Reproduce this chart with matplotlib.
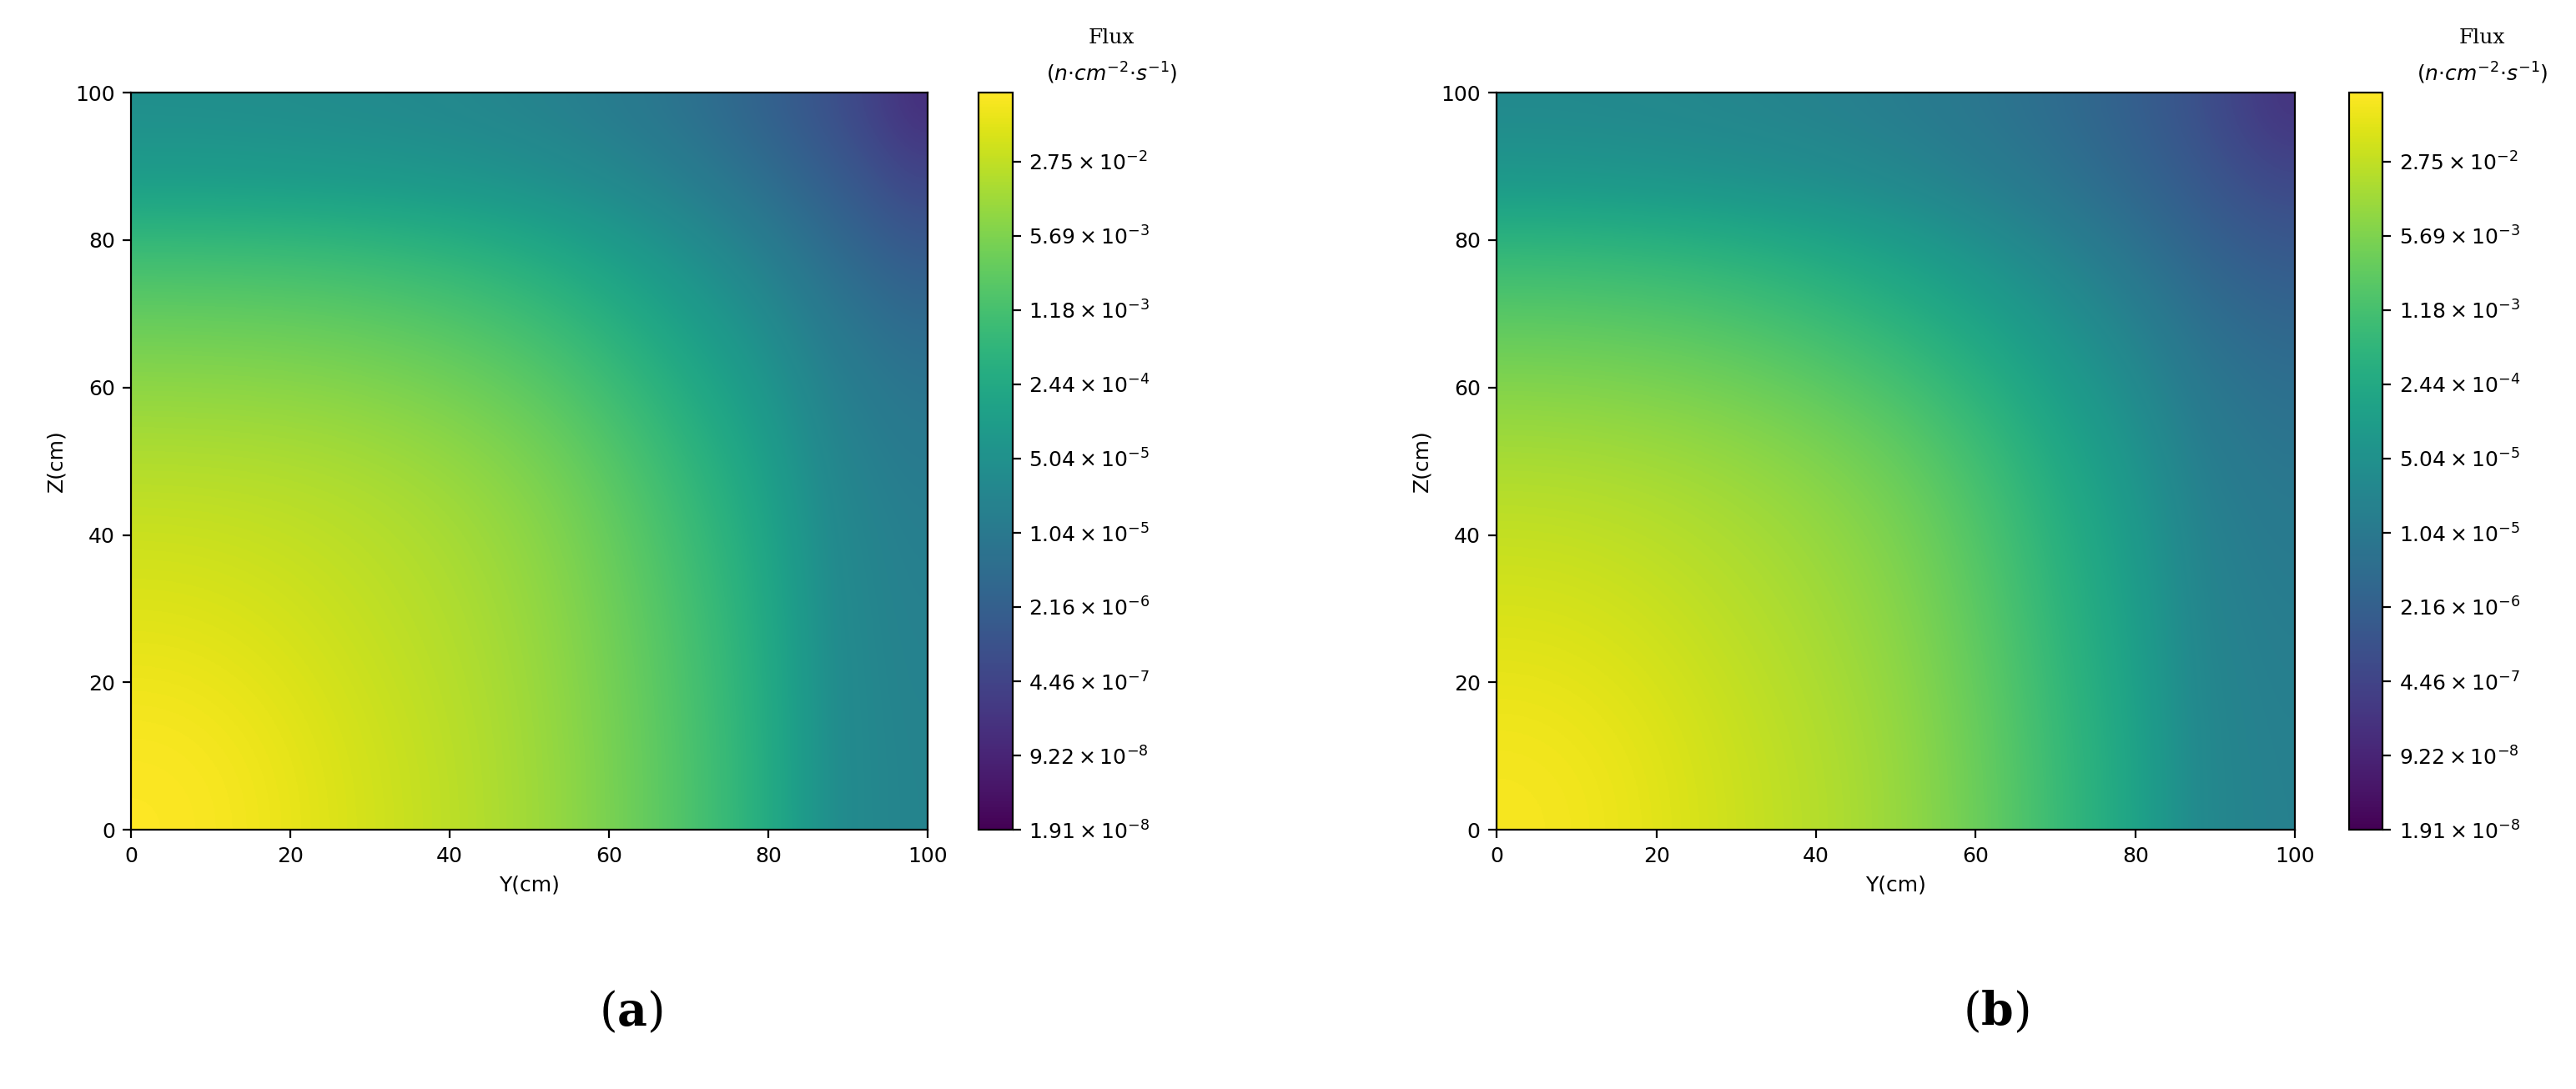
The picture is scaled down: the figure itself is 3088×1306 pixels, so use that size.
import numpy as np
import matplotlib
matplotlib.use("Agg")
import matplotlib.pyplot as plt
from matplotlib.colors import LogNorm

plt.rcParams["mathtext.fontset"] = "custom"
plt.rcParams["mathtext.rm"] = "DejaVu Sans"
plt.rcParams["mathtext.it"] = "DejaVu Sans:italic"
plt.rcParams["mathtext.bf"] = "DejaVu Serif:bold"

vmin, vmax = 1.91e-8, 0.119
tick_vals = [1.91e-8, 9.22e-8, 4.46e-7, 2.16e-6, 1.04e-5, 5.04e-5, 2.44e-4, 1.18e-3, 5.69e-3, 2.75e-2]
tick_labels = [r"$1.91\times10^{-8}$", r"$9.22\times10^{-8}$", r"$4.46\times10^{-7}$", r"$2.16\times10^{-6}$",
               r"$1.04\times10^{-5}$", r"$5.04\times10^{-5}$", r"$2.44\times10^{-4}$", r"$1.18\times10^{-3}$",
               r"$5.69\times10^{-3}$", r"$2.75\times10^{-2}$"]

# colour position (0..1 on log scale); rows Z=0..100, cols Y=0..100 step 20
pos_a = np.array([
    [1.00, 0.94, 0.89, 0.78, 0.54, 0.44],
    [0.96, 0.92, 0.88, 0.77, 0.54, 0.43],
    [0.91, 0.90, 0.86, 0.74, 0.53, 0.42],
    [0.82, 0.81, 0.77, 0.66, 0.50, 0.38],
    [0.62, 0.61, 0.59, 0.53, 0.42, 0.25],
    [0.48, 0.47, 0.45, 0.41, 0.31, 0.00],
])
pos_b = np.array([
    [0.99, 0.93, 0.88, 0.74, 0.52, 0.43],
    [0.95, 0.91, 0.86, 0.72, 0.51, 0.42],
    [0.90, 0.88, 0.83, 0.69, 0.50, 0.40],
    [0.80, 0.78, 0.72, 0.61, 0.46, 0.36],
    [0.60, 0.58, 0.55, 0.48, 0.38, 0.27],
    [0.46, 0.45, 0.43, 0.39, 0.31, 0.08],
])

lo, hi = np.log10(vmin), np.log10(vmax)
def flux(p):
    return 10 ** (lo + p * (hi - lo))

W, H = 3088, 1306
fig = plt.figure(figsize=(W / 200, H / 200), dpi=200)

def panel(ax_rect, cb_rect, p, letter, lx):
    ax = fig.add_axes(ax_rect)
    im = ax.imshow(flux(p), origin="lower", extent=[0, 100, 0, 100], cmap="viridis",
                   norm=LogNorm(vmin=vmin, vmax=vmax), interpolation="bicubic", aspect="auto")
    ax.set_xlim(0, 100); ax.set_ylim(0, 100)
    ax.set_xticks(range(0, 101, 20)); ax.set_yticks(range(0, 101, 20))
    ax.tick_params(labelsize=9)
    ax.set_xlabel("Y(cm)", fontsize=9)
    ax.set_ylabel("Z(cm)", fontsize=9)
    cax = fig.add_axes(cb_rect)
    cb = fig.colorbar(im, cax=cax)
    cb.minorticks_off()
    cb.set_ticks(tick_vals)
    cb.set_ticklabels(tick_labels)
    cax.tick_params(labelsize=9)
    cx = cb_rect[0] + cb_rect[2] / 2 + 0.045
    fig.text(cx, 0.965, "Flux", ha="center", va="center", family="DejaVu Serif", fontsize=9)
    fig.text(cx, 0.933, r"$(n{\cdot}cm^{-2}{\cdot}s^{-1})$", ha="center", va="center", fontsize=9)
    fig.text(lx, 0.07, "(" + r"$\mathbf{" + letter + "}$" + ")", ha="center", va="center",
             family="DejaVu Serif", fontsize=20)

panel([0.051, 0.238, 0.309, 0.677], [0.380, 0.238, 0.013, 0.677], pos_a, "a", 0.245)
panel([0.581, 0.238, 0.310, 0.677], [0.912, 0.238, 0.013, 0.677], pos_b, "b", 0.775)

fig.savefig("out.png", dpi=200)
